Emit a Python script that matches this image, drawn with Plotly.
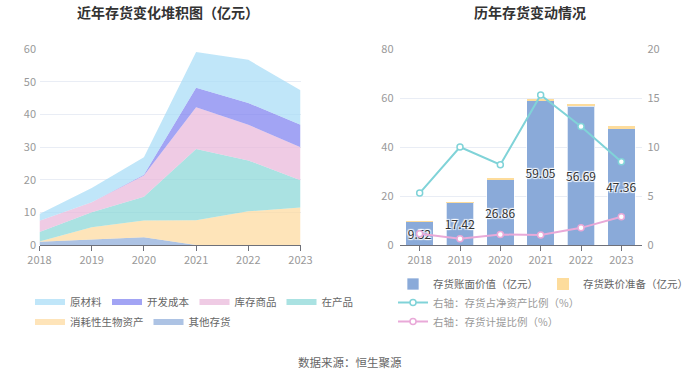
import plotly.graph_objects as go

years = ["2018", "2019", "2020", "2021", "2022", "2023"]

# Left chart: stacked inventory components (亿元)
other_inv = [1.0, 1.7, 2.4, 0.0, 0.0, 0.0]            # 其他存货
bio_assets = [0.05, 3.7, 5.1, 7.6, 10.3, 11.5]        # 消耗性生物资产
wip = [2.9, 4.6, 7.3, 21.8, 15.6, 8.3]                # 在产品
goods = [3.5, 3.1, 6.5, 12.8, 10.9, 10.1]             # 库存商品
dev_cost = [0.0, 0.0, 0.2, 5.9, 6.7, 6.9]             # 开发成本
raw_mat = [2.07, 4.32, 5.36, 10.95, 13.19, 10.56]     # 原材料

# Right chart
book_value = [9.52, 17.42, 26.86, 59.05, 56.69, 47.36]     # 存货账面价值
impairment = [0.11, 0.11, 0.29, 0.61, 1.01, 1.41]          # 存货跌价准备
ratio_net_assets = [5.3, 10.0, 8.2, 15.3, 12.1, 8.5]       # 存货占净资产比例 %
ratio_provision = [1.15, 0.63, 1.07, 1.02, 1.75, 2.88]     # 存货计提比例 %

FONT = "Noto Sans CJK SC"
fig = go.Figure()

area_specs = [
    ("其他存货", other_inv, "rgba(138,169,217,0.7)", "legend2"),
    ("消耗性生物资产", bio_assets, "rgba(253,217,155,0.7)", "legend2"),
    ("在产品", wip, "rgba(134,213,214,0.7)", "legend"),
    ("库存商品", goods, "rgba(232,181,217,0.7)", "legend"),
    ("开发成本", dev_cost, "rgba(122,126,240,0.7)", "legend"),
    ("原材料", raw_mat, "rgba(165,220,247,0.7)", "legend"),
]
for name, vals, col, lg in area_specs:
    fig.add_trace(go.Scatter(
        x=years, y=vals, name=name, stackgroup="one", mode="none",
        fillcolor=col, line=dict(width=0), legend=lg,
        xaxis="x", yaxis="y",
    ))

fig.add_trace(go.Bar(
    x=years, y=book_value, name="存货账面价值（亿元）",
    marker=dict(color="#8aaad9", line=dict(color="rgba(255,255,255,0.7)", width=1)),
    text=[f"{v:.2f}" for v in book_value], textposition="inside", textangle=0,
    insidetextanchor="middle", constraintext="none",
    textfont=dict(color="#333", size=12, family=FONT,
                  shadow="1px 1px 1px #fff, -1px -1px 1px #fff, 1px -1px 1px #fff, -1px 1px 1px #fff"),
    width=0.68, xaxis="x2", yaxis="y2", legend="legend3",
))
fig.add_trace(go.Bar(
    x=years, y=impairment, name="存货跌价准备（亿元）",
    marker=dict(color="#fddc9c", line=dict(width=0)),
    width=0.68, xaxis="x2", yaxis="y2", legend="legend3",
))
fig.add_trace(go.Scatter(
    x=years, y=ratio_net_assets, name="右轴：存货占净资产比例（%）",
    mode="lines+markers", line=dict(color="#80d3d8", width=2),
    marker=dict(symbol="circle", size=6, color="white", line=dict(color="#80d3d8", width=1.5)),
    xaxis="x2", yaxis="y3", legend="legend4",
))
fig.add_trace(go.Scatter(
    x=years, y=ratio_provision, name="右轴：存货计提比例（%）",
    mode="lines+markers", line=dict(color="#e9a9d8", width=2),
    marker=dict(symbol="circle", size=6, color="white", line=dict(color="#e9a9d8", width=1.5)),
    xaxis="x2", yaxis="y3", legend="legend4",
))

W, H = 700, 377
def px(x): return x / W
def py(y): return 1 - y / H

tickfont = dict(color="#999", size=11, family=FONT)
grid = "#e9edf5"
ydom = [py(245), py(49)]

legend_font = dict(color="#666", size=10.5, family=FONT)
fig.update_layout(
    width=W, height=H, margin=dict(l=0, r=0, t=0, b=0, autoexpand=False),
    plot_bgcolor="white", paper_bgcolor="white",
    font=dict(family=FONT),
    barmode="stack",
    xaxis=dict(domain=[px(39.5), px(300.5)], type="category", range=[0, 5],
               showgrid=False, showline=True, linecolor="#6e7079",
               ticks="outside", ticklen=5, tickcolor="#6e7079", tickfont=tickfont),
    yaxis=dict(domain=ydom, range=[0, 60], dtick=10, showgrid=True, gridcolor=grid,
               zeroline=False, showline=False, tickfont=tickfont, ticksuffix=" "),
    xaxis2=dict(domain=[px(399.5), px(641.5)], type="category", range=[-0.5, 5.5],
                showgrid=False, showline=True, linecolor="#6e7079",
                ticks="outside", ticklen=5, tickcolor="#6e7079", tickfont=tickfont,
                anchor="y2"),
    yaxis2=dict(domain=ydom, range=[0, 80], dtick=20, showgrid=True, gridcolor=grid,
                zeroline=False, showline=False, tickfont=tickfont, anchor="x2",
                ticksuffix="  "),
    yaxis3=dict(range=[0, 20], dtick=5, overlaying="y2", side="right", anchor="x2",
                showgrid=False, zeroline=False, showline=False, tickfont=tickfont,
                tickprefix="  "),
    legend=dict(orientation="h", x=px(30), y=py(302), xanchor="left", yanchor="middle",
                font=legend_font, traceorder="reversed", itemwidth=30,
                bgcolor="rgba(0,0,0,0)"),
    legend2=dict(orientation="h", x=px(30), y=py(322), xanchor="left", yanchor="middle",
                 font=legend_font, traceorder="reversed", itemwidth=30,
                 bgcolor="rgba(0,0,0,0)"),
    legend3=dict(orientation="h", x=px(393), y=py(284), xanchor="left", yanchor="middle",
                 font=legend_font, itemwidth=30, traceorder="normal",
                 bgcolor="rgba(0,0,0,0)"),
    legend4=dict(orientation="v", x=px(393), y=py(312), xanchor="left", yanchor="middle",
                 font=dict(color="#999", size=10.5, family=FONT), itemwidth=30,
                 bgcolor="rgba(0,0,0,0)", tracegroupgap=0),
    annotations=[
        dict(text="<b>近年存货变化堆积图（亿元）</b>", x=px(168), y=py(12), xref="paper", yref="paper",
             xanchor="center", yanchor="middle",
             showarrow=False, font=dict(size=14, color="#333", family=FONT)),
        dict(text="<b>历年存货变动情况</b>", x=px(530), y=py(12), xref="paper", yref="paper",
             xanchor="center", yanchor="middle",
             showarrow=False, font=dict(size=14, color="#333", family=FONT)),
        dict(text="数据来源：恒生聚源", x=0.5, y=py(362), xref="paper", yref="paper",
             xanchor="center", yanchor="middle",
             showarrow=False, font=dict(size=11.5, color="#666", family=FONT)),
    ],
)

fig.write_html("out.html",
               config={"displayModeBar": False},
               post_script="document.body.style.margin='0';document.body.style.overflow='hidden';")
